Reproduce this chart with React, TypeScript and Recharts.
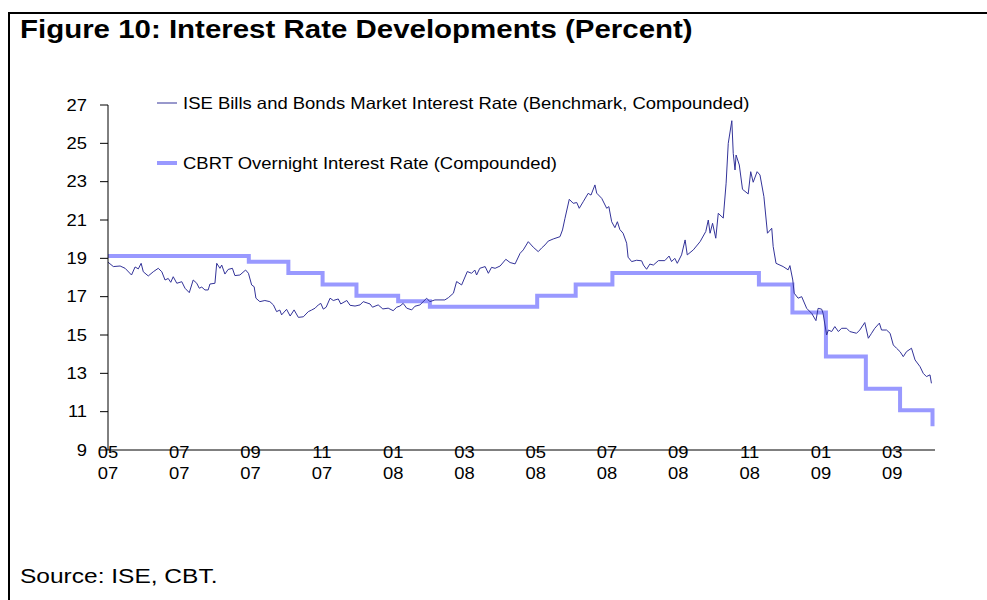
import React from "react";
import { LineChart, Line, XAxis, YAxis, Legend } from "recharts";

// x values are months since the start of May 2007
const iseMonth = [
  0, 0.15, 0.34, 0.48, 0.66, 0.76, 0.85, 0.93, 0.99, 1.13,
  1.27, 1.41, 1.51, 1.6, 1.69, 1.76, 1.83, 1.93, 2.07, 2.16,
  2.28, 2.39, 2.49, 2.56, 2.63, 2.72, 2.81, 2.86, 3.0, 3.05,
  3.14, 3.19, 3.28, 3.37, 3.49, 3.56, 3.7, 3.86, 3.94, 4.03,
  4.1, 4.15, 4.26, 4.4, 4.54, 4.64, 4.73, 4.82, 4.87, 5.01,
  5.11, 5.22, 5.34, 5.48, 5.62, 5.71, 5.81, 5.9, 5.97, 6.04,
  6.12, 6.23, 6.32, 6.46, 6.53, 6.7, 6.79, 6.93, 7.07, 7.16,
  7.35, 7.42, 7.58, 7.71, 7.86, 8.0, 8.1, 8.19, 8.28, 8.38,
  8.52, 8.61, 8.75, 8.94, 9.03, 9.17, 9.45, 9.55, 9.69, 9.78,
  9.92, 10.08, 10.2, 10.29, 10.34, 10.43, 10.58, 10.67, 10.76, 10.86,
  11.0, 11.16, 11.28, 11.42, 11.56, 11.65, 11.79, 11.93, 12.07, 12.17,
  12.26, 12.35, 12.49, 12.68, 12.75, 12.82, 12.94, 13.05, 13.15, 13.22,
  13.33, 13.47, 13.55, 13.66, 13.71, 13.85, 13.99, 14.05, 14.13, 14.22,
  14.29, 14.36, 14.45, 14.55, 14.59, 14.69, 14.83, 14.97, 15.02, 15.11,
  15.2, 15.3, 15.44, 15.62, 15.74, 15.81, 15.9, 15.97, 16.09, 16.19,
  16.25, 16.42, 16.61, 16.77, 16.84, 16.89, 16.96, 17.05, 17.12, 17.26,
  17.34, 17.4, 17.5, 17.54, 17.59, 17.62, 17.71, 17.8, 17.96, 18.03,
  18.1, 18.21, 18.29, 18.4, 18.5, 18.62, 18.66, 18.74, 18.94, 19.08,
  19.13, 19.21, 19.25, 19.36, 19.46, 19.6, 19.74, 19.86, 19.92, 20.02,
  20.06, 20.16, 20.21, 20.3, 20.39, 20.49, 20.58, 20.72, 20.81, 21.0,
  21.09, 21.23, 21.33, 21.42, 21.51, 21.64, 21.7, 21.84, 21.94, 22.03,
  22.12, 22.22, 22.31, 22.4, 22.54, 22.64, 22.78, 22.87, 22.96, 23.06,
  23.1,
];
const iseRate = [
  18.8, 18.57, 18.6, 18.48, 18.13, 18.55, 18.45, 18.74, 18.3, 18.08,
  18.3, 18.48, 18.3, 17.87, 17.95, 17.75, 18.04, 17.7, 17.78, 17.44,
  17.21, 17.87, 17.7, 17.44, 17.5, 17.35, 17.35, 17.66, 17.7, 18.74,
  18.48, 18.65, 18.18, 18.42, 18.48, 18.1, 18.13, 18.39, 18.22, 17.61,
  17.52, 16.92, 16.74, 16.8, 16.74, 16.57, 16.22, 16.3, 16.05, 16.34,
  15.99, 16.31, 15.92, 15.95, 16.22, 16.3, 16.4, 16.57, 16.65, 16.35,
  16.45, 16.92, 16.8, 16.88, 16.62, 16.8, 16.55, 16.51, 16.57, 16.74,
  16.62, 16.45, 16.57, 16.36, 16.4, 16.27, 16.45, 16.51, 16.65, 16.4,
  16.31, 16.5, 16.57, 16.92, 16.74, 16.83, 16.83, 16.95, 17.18, 17.79,
  17.61, 18.31, 18.22, 18.39, 18.13, 18.48, 18.57, 18.22, 18.53, 18.48,
  18.6, 18.95, 18.78, 18.71, 19.26, 19.44, 19.87, 19.58, 19.35, 19.55,
  19.7, 19.9, 20.01, 20.13, 20.48, 21.09, 22.08, 21.87, 21.91, 21.61,
  21.95, 22.39, 22.3, 22.83, 22.4, 22.13, 21.61, 21.7, 20.91, 20.6,
  20.91, 20.5, 20.31, 19.79, 19.06, 18.83, 18.9, 18.87, 18.65, 18.43,
  18.7, 18.65, 18.88, 18.88, 19.12, 18.83, 19.0, 18.74, 19.18, 19.96,
  19.18, 19.44, 19.87, 20.4, 21.0, 20.31, 20.83, 20.05, 21.35, 21.1,
  22.92, 25.0, 26.18, 24.48, 23.61, 24.39, 23.87, 22.6, 22.36, 23.52,
  22.97, 23.52, 23.35, 22.22, 20.31, 20.57, 19.62, 18.74, 18.57, 18.4,
  18.62, 17.87, 17.18, 16.92, 17.0, 16.39, 16.13, 15.75, 16.39, 16.35,
  16.13, 15.0, 15.26, 15.18, 15.44, 15.18, 15.35, 15.35, 15.18, 15.09,
  15.26, 15.65, 14.83, 15.09, 15.35, 15.62, 15.26, 15.26, 15.09, 14.48,
  14.31, 14.13, 13.87, 14.13, 14.31, 13.7, 13.35, 13.0, 12.83, 12.92,
  12.48,
];

// policy rate steps (compounded), month at which each level starts
const cbrtMonth = [0, 3.95, 5.06, 6.02, 6.97, 8.14, 9.03, 12.04, 13.12, 14.15, 18.26, 19.2, 20.14, 21.26, 22.22, 23.13];
const cbrtRate = [19.12, 18.82, 18.23, 17.64, 17.05, 16.76, 16.47, 17.05, 17.64, 18.23, 17.64, 16.18, 13.88, 12.19, 11.07, 10.24];

const xTicks = [0, 2, 4, 6, 8, 10, 12, 14, 16, 18, 20, 22];
const xTickMonth = ["05", "07", "09", "11", "01", "03", "05", "07", "09", "11", "01", "03"];
const xTickYear = ["07", "07", "07", "07", "08", "08", "08", "08", "08", "08", "09", "09"];
const yTicks = [9, 11, 13, 15, 17, 19, 21, 23, 25, 27];

const ISE_NAME = "ISE Bills and Bonds Market Interest Rate (Benchmark, Compounded)";
const CBRT_NAME = "CBRT Overnight Interest Rate (Compounded)";

const iseData = iseMonth.map((m, i) => ({ m, v: iseRate[i] }));
const cbrtData = cbrtMonth.map((m, i) => ({ m, v: cbrtRate[i] }));

const FONT = '"Liberation Sans", Arial, sans-serif';
// the source figure is stretched a little horizontally
const TICK_SX = 1.15;
const LEG_SX = 1.12;

function XTick(props: any) {
  const { x, y, payload } = props;
  const i = xTicks.indexOf(payload.value);
  return (
    <g transform={`translate(${x},${y})`}>
      <text transform={`scale(${TICK_SX},1)`} textAnchor="middle" fontSize={16} fontFamily={FONT} fill="#000">
        <tspan x={0} y={8}>{xTickMonth[i]}</tspan>
        <tspan x={0} y={29}>{xTickYear[i]}</tspan>
      </text>
    </g>
  );
}

function YTick(props: any) {
  const { x, y, payload } = props;
  return (
    <g transform={`translate(${x},${y})`}>
      <text transform={`scale(${TICK_SX},1)`} textAnchor="end" dy="0.36em" fontSize={16} fontFamily={FONT} fill="#000">
        {payload.value}
      </text>
    </g>
  );
}

function renderLegend(props: any) {
  const items = [...(props.payload || [])].reverse();
  return (
    <svg width={987} height={200} style={{ position: "absolute", left: 0, top: 0, overflow: "visible" }}>
      {items.map((it: any, i: number) => {
        const cy = 103 + i * 60;
        return (
          <g key={it.value}>
            <line x1={157} x2={177} y1={cy} y2={cy} stroke={it.color} strokeWidth={it.value === CBRT_NAME ? 4 : 1} />
            <g transform={`translate(183,${cy})`}>
              <text transform={`scale(${LEG_SX},1)`} dy="0.36em" fontSize={16.5} fontFamily={FONT} fill="#000">
                {it.value}
              </text>
            </g>
          </g>
        );
      })}
    </svg>
  );
}

export default function App() {
  return (
    <div style={{ position: "absolute", left: 0, top: 0, width: 987, height: 600, overflow: "hidden", background: "#fff", fontFamily: FONT }}>
      <div style={{ position: "absolute", left: 8, top: 12, width: 1100, height: 700, borderLeft: "2px solid #000", borderTop: "2px solid #000" }} />
      <div
        style={{
          position: "absolute", left: 20, top: 17, fontSize: 25, fontWeight: "bold", lineHeight: 1,
          whiteSpace: "nowrap", transform: "scaleX(1.178)", transformOrigin: "0 0",
        }}
      >
        Figure 10: Interest Rate Developments (Percent)
      </div>
      <div style={{ position: "absolute", left: 0, top: 0 }}>
        <LineChart width={987} height={600} margin={{ top: 105, right: 52, bottom: 110, left: 0 }}>
          <XAxis
            type="number" dataKey="m" domain={[0, 23.2]} ticks={xTicks} allowDataOverflow
            height={40} tickLine={false} tickSize={0} tickMargin={0}
            axisLine={{ stroke: "#000" }} tick={<XTick />} interval={0}
          />
          <YAxis
            type="number" domain={[9, 27]} ticks={yTicks} width={108} allowDataOverflow
            tickSize={8} tickMargin={13} tickLine={{ stroke: "#000" }} axisLine={{ stroke: "#000" }}
            tick={<YTick />} interval={0}
          />
          <Legend content={renderLegend} verticalAlign="top" wrapperStyle={{ left: 0, top: 0, width: 0, height: 0 }} />
          <Line
            data={cbrtData} dataKey="v" name={CBRT_NAME} type="stepAfter" stroke="#9999FF"
            strokeWidth={4} dot={false} isAnimationActive={false}
          />
          <Line
            data={iseData} dataKey="v" name={ISE_NAME} type="linear" stroke="#333399"
            strokeWidth={1} dot={false} isAnimationActive={false}
          />
        </LineChart>
      </div>
      <div
        style={{
          position: "absolute", left: 20, top: 566, fontSize: 20, lineHeight: 1, whiteSpace: "nowrap",
          transform: "scaleX(1.225)", transformOrigin: "0 0",
        }}
      >
        Source: ISE, CBT.
      </div>
    </div>
  );
}
